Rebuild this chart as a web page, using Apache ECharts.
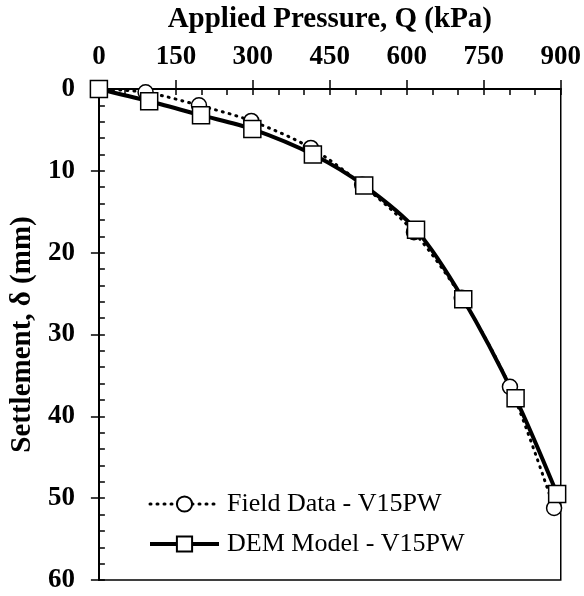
<!DOCTYPE html>
<html><head><meta charset="utf-8">
<script src="https://cdn.jsdelivr.net/npm/echarts@6/dist/echarts.min.js"></script>
<style>html,body{margin:0;padding:0;background:#fff}#c{width:584px;height:596px}</style>
</head><body><div id="c"></div>
<script>
var fieldQ = [0, 91, 195, 297, 413, 513, 614, 707, 801, 887];
var fieldD = [0, 0.4, 2.0, 3.9, 7.2, 11.7, 17.5, 25.5, 36.4, 51.2];
var demQ = [0, 98, 199, 299, 417, 517, 618, 710, 812, 893];
var demD = [0, 1.5, 3.2, 4.9, 8.0, 11.8, 17.2, 25.7, 37.8, 49.5];
var xTicks = [0, 150, 300, 450, 600, 750, 900];
var yTicks = [0, 10, 20, 30, 40, 50, 60];

function pairs(a, b) { return a.map(function (v, i) { return [v, b[i]]; }); }
var FONT = 'Liberation Serif';
var DOTS = [1, 6];
var chart = echarts.init(document.getElementById('c'));
chart.setOption({
  animation: false,
  backgroundColor: '#fff',
  grid: { left: 96, right: 22, top: 88, bottom: 16, show: true, borderColor: '#000', borderWidth: 1.5, backgroundColor: 'transparent' },
  xAxis: [{
    type: 'value', position: 'top', min: xTicks[0], max: xTicks[xTicks.length - 1], interval: 150,
    name: 'Applied Pressure, Q (kPa)', nameLocation: 'middle', nameGap: 55,
    nameTextStyle: { fontFamily: FONT, fontWeight: 'bold', fontSize: 29, color: '#000' },
    axisLine: { lineStyle: { color: '#000', width: 2 } },
    axisTick: { show: true, inside: false, length: 9, lineStyle: { color: '#000', width: 1.5 } },
    axisLabel: { fontFamily: FONT, fontWeight: 'bold', fontSize: 27, color: '#000', margin: 18 },
    splitLine: { show: false }
  }, {
    type: 'value', position: 'top', min: 0, max: 900, interval: 50,
    axisLine: { show: false }, axisLabel: { show: false }, splitLine: { show: false },
    axisTick: { show: true, inside: true, length: 6, lineStyle: { color: '#000', width: 1.5 } }
  }],
  yAxis: [{
    type: 'value', inverse: true, min: yTicks[0], max: yTicks[yTicks.length - 1], interval: 10,
    name: 'Settlement, δ (mm)', nameLocation: 'middle', nameGap: 57, nameRotate: 90,
    nameTextStyle: { fontFamily: FONT, fontWeight: 'bold', fontSize: 29, color: '#000' },
    axisLine: { lineStyle: { color: '#000', width: 2 } },
    axisTick: { show: true, inside: false, length: 8, lineStyle: { color: '#000', width: 1.5 } },
    axisLabel: { fontFamily: FONT, fontWeight: 'bold', fontSize: 27, color: '#000', margin: 24 },
    splitLine: { show: false }
  }, {
    type: 'value', inverse: true, position: 'left', min: 0, max: 60, interval: 2,
    axisLine: { show: false }, axisLabel: { show: false }, splitLine: { show: false },
    axisTick: { show: true, inside: true, length: 6, lineStyle: { color: '#000', width: 1.5 } }
  }],
  legend: {
    left: 143, top: 486, orient: 'vertical', itemGap: 14, itemWidth: 69, itemHeight: 19,
    textStyle: { fontFamily: FONT, fontSize: 26, color: '#000', padding: [0, 0, 0, 3] },
    data: [
      { name: 'Field Data - V15PW', lineStyle: { width: 3, type: DOTS, cap: 'round', color: '#000' } },
      { name: 'DEM Model - V15PW', lineStyle: { width: 4, type: 'solid', color: '#000' } }
    ]
  },
  series: [{
    name: 'Field Data - V15PW', type: 'line', xAxisIndex: 0, yAxisIndex: 0,
    data: pairs(fieldQ, fieldD), smooth: 0.3,
    symbol: 'circle', symbolSize: 15,
    itemStyle: { color: '#fff', borderColor: '#000', borderWidth: 1.5 },
    lineStyle: { color: '#000', width: 3, type: DOTS, cap: 'round' }
  }, {
    name: 'DEM Model - V15PW', type: 'line', xAxisIndex: 0, yAxisIndex: 0,
    data: pairs(demQ, demD), smooth: 0.3,
    symbol: 'rect', symbolSize: 17,
    itemStyle: { color: '#fff', borderColor: '#000', borderWidth: 1.5 },
    lineStyle: { color: '#000', width: 4 }
  }]
});
</script></body></html>
